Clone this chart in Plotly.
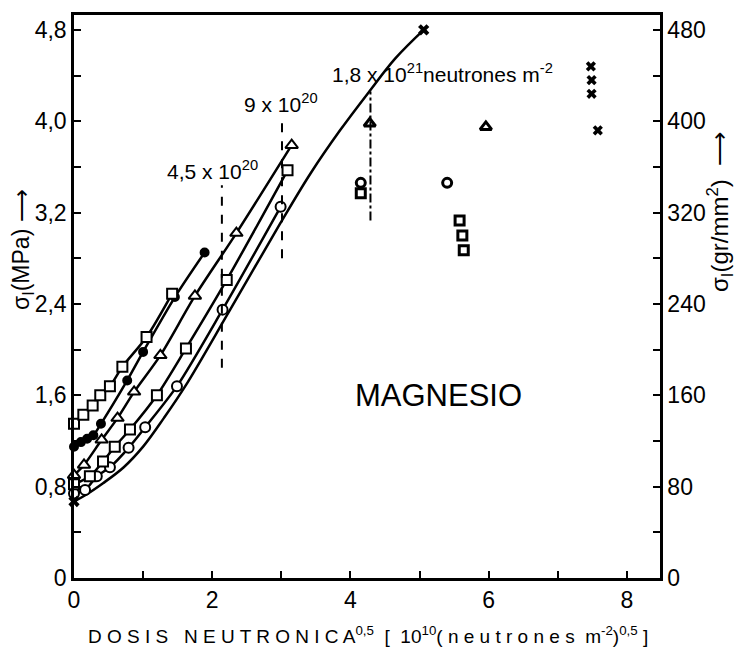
import plotly.graph_objects as go

# ---- data ----
# Series A: open squares (upper curve)
a_x = [0, 0.135, 0.27, 0.38, 0.52, 0.70, 1.05, 1.42]
a_y = [1.35, 1.43, 1.51, 1.60, 1.68, 1.85, 2.11, 2.49]
# Series B: filled dots
b_x = [0, 0.10, 0.19, 0.28, 0.39, 0.77, 1.00, 1.46, 1.89]
b_y = [1.15, 1.19, 1.22, 1.25, 1.35, 1.73, 1.98, 2.46, 2.85]
# Series C: open triangles
c_x = [0, 0.145, 0.40, 0.63, 0.87, 1.25, 1.75, 2.35, 3.15]
c_y = [0.90, 0.99, 1.21, 1.40, 1.63, 1.95, 2.47, 3.02, 3.79]
# Series D: open squares (lower curve)
d_x = [0, 0.23, 0.42, 0.59, 0.81, 1.20, 1.62, 2.21, 3.09]
d_y = [0.82, 0.89, 1.02, 1.15, 1.30, 1.60, 2.01, 2.61, 3.57]
# Series E: open circles
e_x = [0, 0.16, 0.33, 0.52, 0.79, 1.03, 1.49, 2.15, 2.99]
e_y = [0.74, 0.77, 0.89, 0.97, 1.14, 1.32, 1.68, 2.35, 3.25]
# Series F: crosses (curve read points and markers)
f_curve_x = [0, 0.15, 0.42, 0.72, 1.00, 1.30, 1.61, 2.26, 2.98, 3.42, 3.85, 4.26, 4.65, 5.06]
f_curve_y = [0.67, 0.72, 0.83, 0.97, 1.15, 1.40, 1.68, 2.35, 3.10, 3.54, 3.92, 4.25, 4.55, 4.80]
f_x = [0, 5.06]
f_y = [0.67, 4.80]

# isolated points
iso_tri_x = [4.28, 5.96]
iso_tri_y = [3.98, 3.95]
iso_circ_x = [4.15, 5.40]
iso_circ_y = [3.46, 3.46]
iso_sq_x = [4.15, 5.58, 5.62, 5.64]
iso_sq_y = [3.37, 3.13, 3.00, 2.87]
iso_x_x = [7.48, 7.49, 7.49, 7.58]
iso_x_y = [4.48, 4.36, 4.24, 3.92]

# dose marker lines: x, y-bottom, y-top
v1_x = [2.14, 2.14]; v1_y = [1.84, 3.44]
v2_x = [3.01, 3.01]; v2_y = [2.80, 4.04]
v3_x = [4.29, 4.29]; v3_y = [3.13, 4.26]

x_ticks = [0, 1, 2, 3, 4, 5, 6, 7, 8]
x_ticktext = ["0", "", "2", "", "4", "", "6", "", "8"]
y_ticks = [0, 0.4, 0.8, 1.2, 1.6, 2.0, 2.4, 2.8, 3.2, 3.6, 4.0, 4.4, 4.8]
y_ticktext = ["0", "", "0,8", "", "1,6", "", "2,4", "", "3,2", "", "4,0", "", "4,8"]
y2_ticks = [0, 40, 80, 120, 160, 200, 240, 280, 320, 360, 400, 440, 480]
y2_ticktext = ["0", "", "80", "", "160", "", "240", "", "320", "", "400", "", "480"]

FONT = "Liberation Sans, Arial, sans-serif"
BLACK = "black"
LW = 2.5

# plot area in pixels (for paper-coordinate placement of side titles)
PL, PR, PT, PB = 74, 660, 15, 578

fig = go.Figure()

def curve(x, y, symbol, size=10, filled=False, lw=LW):
    fig.add_trace(go.Scatter(
        x=x, y=y, mode="lines+markers",
        line=dict(color=BLACK, width=lw, shape="spline", smoothing=0.8),
        marker=dict(symbol=symbol, size=size,
                    color=BLACK if filled else "white",
                    line=dict(color=BLACK, width=2)),
        showlegend=False, cliponaxis=False))

fig.add_trace(go.Scatter(
    x=f_curve_x, y=f_curve_y, mode="lines",
    line=dict(color=BLACK, width=LW, shape="spline", smoothing=1.0),
    showlegend=False))
curve(e_x, e_y, "circle")
curve(d_x, d_y, "square")
curve(c_x, c_y, "triangle-up", size=11)
curve(b_x, b_y, "circle", size=8, filled=True)
curve(a_x, a_y, "square")

fig.add_trace(go.Scatter(x=f_x, y=f_y, mode="markers",
                         marker=dict(symbol="x", size=10, color=BLACK),
                         showlegend=False, cliponaxis=False))

def iso(x, y, symbol, size):
    fig.add_trace(go.Scatter(x=x, y=y, mode="markers",
                             marker=dict(symbol=symbol, size=size, color="white",
                                         line=dict(color=BLACK, width=3)),
                             showlegend=False))

iso(iso_tri_x, iso_tri_y, "triangle-up", 10)
iso(iso_circ_x, iso_circ_y, "circle", 9)
iso(iso_sq_x, iso_sq_y, "square", 9)
fig.add_trace(go.Scatter(x=iso_x_x, y=iso_x_y, mode="markers",
                         marker=dict(symbol="x", size=9, color=BLACK),
                         showlegend=False))

for vx, vy, dash in [(v1_x, v1_y, "dash"), (v2_x, v2_y, "dash"), (v3_x, v3_y, "dashdot")]:
    fig.add_trace(go.Scatter(x=vx, y=vy, mode="lines",
                             line=dict(color=BLACK, width=2, dash=dash),
                             showlegend=False))

# dummy trace for secondary axis
fig.add_trace(go.Scatter(x=[0], y=[0], yaxis="y2", mode="markers",
                         marker=dict(opacity=0), showlegend=False, hoverinfo="skip"))

ann_font = dict(family=FONT, size=21, color=BLACK)
fig.add_annotation(x=2.0, y=3.57, xref="x", yref="y", showarrow=False,
                   text="4,5 x 10<sup>20</sup>", font=ann_font)
fig.add_annotation(x=2.99, y=4.16, xref="x", yref="y", showarrow=False,
                   text="9 x 10<sup>20</sup>", font=ann_font)
fig.add_annotation(x=3.70, y=4.42, xref="x", yref="y", showarrow=False, xanchor="left",
                   text="1,8 x 10<sup>21</sup>neutrones m<sup>-2</sup>", font=ann_font)
fig.add_annotation(x=5.27, y=1.6, xref="x", yref="y", showarrow=False,
                   text="MAGNESIO", font=dict(family=FONT, size=31, color=BLACK))

def px_x(p):
    return (p - PL) / (PR - PL)

def px_y(p):
    return (PB - p) / (PB - PT)

fig.add_annotation(x=px_x(22), y=px_y(250), xref="paper", yref="paper", showarrow=False,
                   xanchor="center", yanchor="middle",
                   text="σ<sub>I</sub>(MPa) ⟶", textangle=-90,
                   font=dict(family=FONT, size=23, color=BLACK))
fig.add_annotation(x=px_x(720), y=px_y(212), xref="paper", yref="paper", showarrow=False,
                   xanchor="center", yanchor="middle",
                   text="σ<sub>I</sub>(gr/mm<sup>2</sup>)  ⟶", textangle=-90,
                   font=dict(family=FONT, size=24, color=BLACK))
fig.add_annotation(x=px_x(368), y=px_y(635), xref="paper", yref="paper", showarrow=False,
                   xanchor="center", yanchor="middle",
                   text="D O S I S   N E U T R O N I C A<sup>0,5</sup>  [  10<sup>10</sup>( n e u t r o n e s  m<sup>-2</sup>)<sup>0,5</sup> ]",
                   font=dict(family=FONT, size=19, color=BLACK))

axis_common = dict(showline=True, linecolor=BLACK, linewidth=LW, ticks="inside",
                   ticklen=7, tickwidth=2, tickcolor=BLACK, showgrid=False, zeroline=False,
                   tickfont=dict(family=FONT, size=23, color=BLACK))

fig.update_layout(
    width=743, height=655,
    margin=dict(l=PL, r=743 - PR, t=PT, b=655 - PB),
    paper_bgcolor="white", plot_bgcolor="white",
    xaxis=dict(range=[0, 8.48], tickmode="array", tickvals=x_ticks, ticktext=x_ticktext,
               mirror=True, **axis_common),
    yaxis=dict(range=[0, 4.93], tickmode="array", tickvals=y_ticks, ticktext=y_ticktext,
               **axis_common),
    yaxis2=dict(range=[0, 493], tickmode="array", tickvals=y2_ticks, ticktext=y2_ticktext,
                overlaying="y", side="right", **axis_common),
)

fig.write_html("out.html")
